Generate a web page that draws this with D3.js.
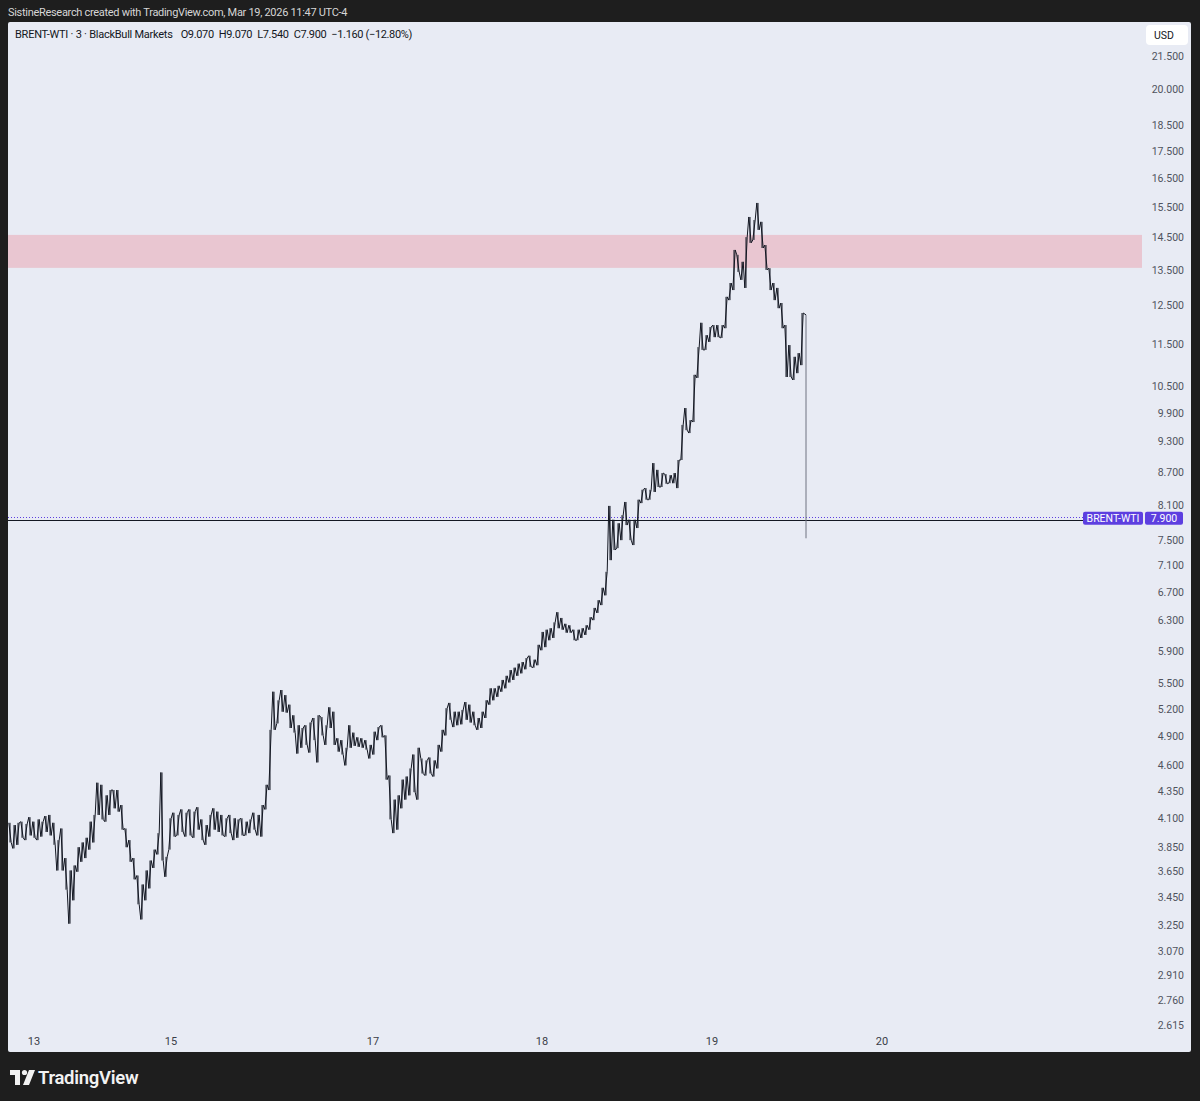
<!DOCTYPE html>
<html>
<head>
<meta charset="utf-8">
<script src="https://cdn.jsdelivr.net/npm/d3@7"></script>
<style>
  body { margin: 0; background: #1e1e1e; }
  svg { display: block; font-family: Roboto, "Noto Sans", sans-serif; }
</style>
</head>
<body>
<svg id="chart" width="1200" height="1101"></svg>
<script>
// ~33 min bars (high / low per bar)
const barHigh = [
  4.06, 4.04, 4.06, 4.07, 4.05, 4.11, 4.07, 4.09, 4.07, 4.12,
  4.13, 4.06, 3.91, 4.01, 3.76, 3.66, 3.70, 3.85, 3.89, 3.93,
  4.07, 4.13, 4.43, 4.41, 4.31, 4.36, 4.36, 4.36, 4.22, 4.01,
  3.91, 3.76, 3.62, 3.55, 3.66, 3.74, 3.83, 3.97, 4.53, 3.77,
  4.10, 4.15, 4.13, 4.18, 4.15, 4.18, 4.16, 4.20, 4.09, 4.04,
  4.13, 4.19, 4.16, 4.13, 4.10, 4.13, 4.10, 4.09, 4.10, 4.07,
  4.09, 4.15, 4.13, 4.22, 4.41, 4.97, 5.40, 5.30, 5.42, 5.36,
  5.25, 5.13, 5.02, 4.99, 5.02, 5.05, 5.10, 5.13, 5.11, 5.02,
  5.22, 5.17, 4.88, 4.86, 4.78, 5.02, 4.94, 4.89, 4.88, 4.86,
  4.81, 4.95, 5.00, 5.02, 4.91, 4.50, 4.27, 4.31, 4.46, 4.49,
  4.57, 4.71, 4.78, 4.67, 4.65, 4.68, 4.65, 4.81, 4.97, 5.21,
  5.27, 5.17, 5.17, 5.19, 5.28, 5.25, 5.17, 5.10, 5.17, 5.30,
  5.44, 5.44, 5.47, 5.54, 5.59, 5.66, 5.69, 5.74, 5.76, 5.81,
  5.84, 5.79, 5.98, 6.15, 6.18, 6.20, 6.28, 6.42, 6.34, 6.26,
  6.24, 6.18, 6.18, 6.20, 6.24, 6.35, 6.48, 6.59, 6.77, 7.01,
  8.09, 7.85, 7.79, 7.93, 8.16, 7.85, 7.85, 8.20, 8.38, 8.41,
  8.38, 8.88, 8.75, 8.69, 8.67, 8.65, 8.69, 8.94, 9.65, 10.01,
  9.75, 10.76, 11.43, 12.05, 11.73, 11.94, 11.99, 11.99, 11.99, 12.75,
  13.14, 14.12, 13.97, 13.76, 14.52, 15.17, 15.07, 15.64, 15.01, 14.27,
  13.57, 13.14, 13.00, 12.58, 11.99, 11.48, 11.19, 11.28, 12.31, 12.26
];
const barLow = [
  3.89, 3.84, 3.87, 3.93, 3.91, 3.95, 3.93, 3.91, 3.94, 3.98,
  3.95, 3.87, 3.66, 3.66, 3.51, 3.26, 3.43, 3.65, 3.73, 3.76,
  3.83, 3.89, 4.13, 4.09, 4.07, 4.13, 4.19, 4.16, 4.00, 3.85,
  3.73, 3.59, 3.40, 3.29, 3.43, 3.52, 3.68, 3.79, 3.74, 3.61,
  3.83, 3.94, 3.95, 3.98, 3.94, 3.95, 3.93, 4.00, 3.91, 3.87,
  3.94, 4.00, 3.98, 3.95, 3.94, 3.97, 3.91, 3.93, 3.95, 3.95,
  3.97, 4.00, 3.95, 3.94, 4.18, 4.36, 4.97, 5.04, 5.17, 5.16,
  4.99, 4.94, 4.72, 4.78, 4.81, 4.73, 4.86, 4.63, 4.91, 4.81,
  4.99, 4.81, 4.74, 4.71, 4.60, 4.78, 4.80, 4.79, 4.78, 4.76,
  4.67, 4.71, 4.86, 4.89, 4.46, 4.09, 3.97, 4.00, 4.19, 4.27,
  4.31, 4.34, 4.27, 4.52, 4.50, 4.52, 4.49, 4.57, 4.74, 4.91,
  5.08, 5.00, 5.02, 5.03, 5.08, 5.05, 5.02, 4.97, 4.99, 5.10,
  5.25, 5.30, 5.34, 5.40, 5.44, 5.51, 5.54, 5.59, 5.62, 5.67,
  5.70, 5.69, 5.72, 5.91, 5.95, 6.04, 6.07, 6.20, 6.18, 6.14,
  6.14, 6.04, 6.04, 6.07, 6.11, 6.18, 6.31, 6.41, 6.52, 6.66,
  7.19, 7.35, 7.38, 7.51, 7.76, 7.51, 7.43, 7.71, 8.14, 8.20,
  8.20, 8.34, 8.43, 8.43, 8.49, 8.50, 8.50, 8.41, 8.94, 9.54,
  9.48, 9.71, 10.69, 11.36, 11.36, 11.56, 11.68, 11.68, 11.66, 11.91,
  12.66, 12.94, 13.46, 13.23, 13.00, 14.34, 14.43, 14.75, 14.18, 13.52,
  12.94, 12.66, 12.44, 11.91, 10.71, 10.71, 10.64, 10.80, 10.99, 7.54
];

// last 3-min bar, from the legend
const lastOHLC = [9.07, 9.07, 7.54, 7.90];
const lastChange = ['−1.160', '−12.80%'];

const priceTicks = [21.5, 20, 18.5, 17.5, 16.5, 15.5, 14.5, 13.5, 12.5, 11.5,
  10.5, 9.9, 9.3, 8.7, 8.1, 7.5, 7.1, 6.7, 6.3, 5.9, 5.5, 5.2, 4.9, 4.6,
  4.35, 4.1, 3.85, 3.65, 3.45, 3.25, 3.07, 2.91, 2.76, 2.615];

// day labels, placed at bar positions (weekend removed)
const dayLabels = ['13', '15', '17', '18', '19', '20'];
const dayBars = [6, 40.25, 90.75, 133, 175.5, 218];

const zoneRange = [13.58, 14.59];
const drawnLine = 7.84;

class PriceChart {
  constructor(_config) {
    this.config = {
      parentElement: _config.parentElement,
      paneLeft: 8, paneTop: 22, paneRight: 1191, paneBottom: 1052,
      plotRight: 1143,
      ..._config
    };
    this.initVis();
  }

  initVis() {
    const vis = this;
    const c = vis.config;
    vis.svg = d3.select(c.parentElement);

    // 1) frame + watermark line
    vis.svg.append('rect').attr('width', 1200).attr('height', 1101).attr('fill', '#1e1e1e');
    vis.svg.append('text')
      .attr('x', 8).attr('y', 16)
      .attr('fill', '#d6d6d6').attr('font-size', 11)
      .attr('letter-spacing', -0.3)
      .text('SistineResearch created with TradingView.com, Mar 19, 2026 11:47 UTC-4');

    vis.svg.append('rect')
      .attr('x', c.paneLeft).attr('y', c.paneTop)
      .attr('width', c.paneRight - c.paneLeft).attr('height', c.paneBottom - c.paneTop)
      .attr('rx', 2).attr('fill', '#e8ebf4');

    // 2) scales
    vis.y = d3.scaleLog().domain([2.615, 21.5]).range([1025, 56.7]);
    vis.x = d3.scaleLinear().domain([0, 283.25]).range([10, c.plotRight]);

    vis.svg.append('clipPath').attr('id', 'pane-clip')
      .append('rect')
      .attr('x', c.paneLeft).attr('y', c.paneTop)
      .attr('width', c.plotRight - c.paneLeft).attr('height', c.paneBottom - c.paneTop);
    const plot = vis.svg.append('g').attr('clip-path', 'url(#pane-clip)');

    // 3) resistance zone
    plot.append('rect')
      .attr('x', c.paneLeft).attr('width', c.plotRight - 1 - c.paneLeft)
      .attr('y', vis.y(zoneRange[1]))
      .attr('height', vis.y(zoneRange[0]) - vis.y(zoneRange[1]))
      .attr('fill', '#e9c6d1');

    // 4) horizontal lines at the last price
    const dy = Math.round(vis.y(drawnLine)) + 0.5;
    plot.append('line')
      .attr('x1', c.paneLeft).attr('x2', 1083)
      .attr('y1', dy).attr('y2', dy)
      .attr('stroke', '#131722').attr('stroke-width', 1);
    const py = Math.round(vis.y(lastOHLC[3])) + 0.5;
    plot.append('line')
      .attr('x1', c.paneLeft).attr('x2', 1083)
      .attr('y1', py).attr('y2', py)
      .attr('stroke', '#5d3fe0').attr('stroke-width', 1).attr('stroke-dasharray', '1,2');

    // 5) bars as a jagged high/low trace
    const n = barHigh.length;
    const mid = i => Math.sqrt(barHigh[i] * barLow[i]);
    const pts = [];
    for (let i = 0; i < n - 1; i++) {
      const up = i < n - 2 ? mid(i + 1) > mid(i) : true;
      if (up) {
        pts.push([i - 0.3, barLow[i]], [i + 0.3, barHigh[i]]);
      } else {
        pts.push([i - 0.3, barHigh[i]], [i + 0.3, barLow[i]]);
      }
    }
    pts.push([n - 1, barHigh[n - 1]]);

    const line = d3.line().x(d => vis.x(d[0])).y(d => vis.y(d[1]));

    plot.selectAll('.wick')
      .data(d3.range(n - 1))
      .join('line')
      .attr('class', 'wick')
      .attr('x1', i => vis.x(i)).attr('x2', i => vis.x(i))
      .attr('y1', i => vis.y(barHigh[i]))
      .attr('y2', i => vis.y(barLow[i]))
      .attr('stroke', '#131722').attr('stroke-width', 1);

    plot.append('path')
      .attr('d', line(pts))
      .attr('fill', 'none')
      .attr('stroke', '#131722')
      .attr('stroke-width', 1)
      .attr('stroke-linejoin', 'miter');

    // final drop bar: thin grey
    const lastX = vis.x(n - 1);
    plot.append('line')
      .attr('x1', lastX).attr('x2', lastX)
      .attr('y1', vis.y(barHigh[n - 1])).attr('y2', vis.y(barLow[n - 1]))
      .attr('stroke', '#6f7280').attr('stroke-width', 1);

    // 6) legend
    const legendParts = [
      'BRENT-WTI · 3 · BlackBull Markets',
      'O' + lastOHLC[0].toFixed(3),
      'H' + lastOHLC[1].toFixed(3),
      'L' + lastOHLC[2].toFixed(3),
      'C' + lastOHLC[3].toFixed(3),
      `${lastChange[0]} (${lastChange[1]})`
    ];
    vis.svg.append('text')
      .attr('x', 15).attr('y', 38)
      .attr('fill', '#131722').attr('font-size', 11)
      .attr('letter-spacing', -0.25)
      .selectAll('tspan')
      .data(legendParts)
      .join('tspan')
      .attr('dx', (d, i) => i === 0 ? 0 : (i === 1 ? 8 : 5))
      .attr('letter-spacing', (d, i) => i === 0 ? -0.25 : -0.35)
      .text(d => d);

    // 7) price scale
    vis.svg.append('rect')
      .attr('x', 1146).attr('y', 25).attr('width', 42).attr('height', 20)
      .attr('rx', 4).attr('fill', '#ffffff');
    vis.svg.append('text')
      .attr('x', 1164).attr('y', 39).attr('text-anchor', 'middle')
      .attr('fill', '#131722').attr('font-size', 10.5)
      .text('USD');

    vis.svg.selectAll('.ptick')
      .data(priceTicks)
      .join('text')
      .attr('class', 'ptick')
      .attr('x', 1184)
      .attr('y', d => vis.y(d) + 3.5)
      .attr('text-anchor', 'end')
      .attr('fill', '#50535e')
      .attr('font-size', 10.5)
      .text(d => d3.format('.3f')(d));

    // last price labels
    const ly = vis.y(lastOHLC[3]) + 1;
    vis.svg.append('rect')
      .attr('x', 1083).attr('y', ly - 6).attr('width', 60).attr('height', 13)
      .attr('rx', 2).attr('fill', '#5d3fe0');
    vis.svg.append('text')
      .attr('x', 1113).attr('y', ly + 4).attr('text-anchor', 'middle')
      .attr('fill', '#ffffff').attr('font-size', 10.5)
      .text('BRENT-WTI');
    vis.svg.append('rect')
      .attr('x', 1145).attr('y', ly - 6).attr('width', 38).attr('height', 13)
      .attr('rx', 2).attr('fill', '#5d3fe0');
    vis.svg.append('text')
      .attr('x', 1164).attr('y', ly + 4).attr('text-anchor', 'middle')
      .attr('fill', '#ffffff').attr('font-size', 10.5)
      .text(lastOHLC[3].toFixed(3));

    // 8) time scale
    vis.svg.selectAll('.dtick')
      .data(dayLabels)
      .join('text')
      .attr('class', 'dtick')
      .attr('x', (d, i) => vis.x(dayBars[i]))
      .attr('y', 1045)
      .attr('text-anchor', 'middle')
      .attr('fill', '#3a3d47')
      .attr('font-size', 11)
      .text(d => d);

    // 9) TradingView footer
    const logo = vis.svg.append('g').attr('fill', '#f2f2f2');
    logo.append('path').attr('d', 'M10 1070 h10 v15 h-5 v-10 h-5 z');
    logo.append('circle').attr('cx', 24.5).attr('cy', 1072.5).attr('r', 2.6);
    logo.append('path').attr('d', 'M29 1070 h6 l-6 15 h-6 z');
    vis.svg.append('text')
      .attr('x', 38).attr('y', 1084)
      .attr('fill', '#f2f2f2').attr('font-size', 18.5).attr('font-weight', 600)
      .attr('letter-spacing', -0.3)
      .text('TradingView');
  }
}

new PriceChart({ parentElement: '#chart' });
</script>
</body>
</html>
